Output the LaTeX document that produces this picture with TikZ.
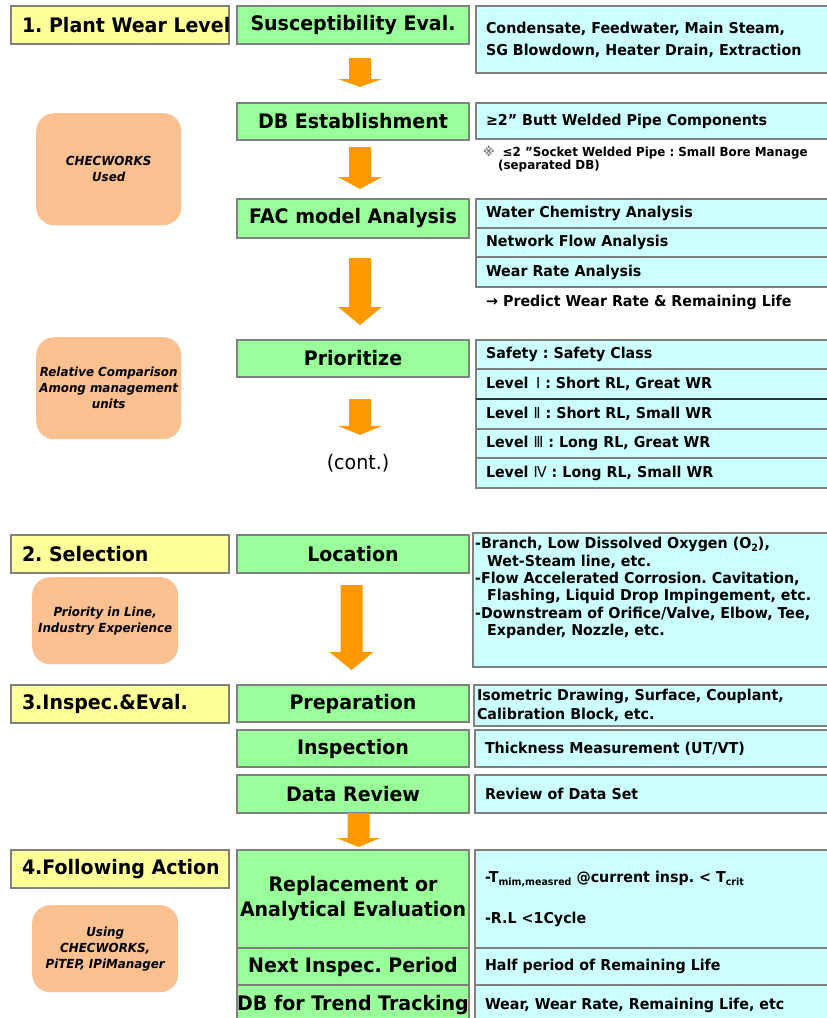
\documentclass[tikz,border=0pt]{standalone}
\usepackage{fontspec}
\setmainfont{DejaVu Sans}[FakeStretch=0.95]
\usetikzlibrary{calc}
\frenchspacing

\definecolor{ylw}{HTML}{FFFF99}
\definecolor{grn}{HTML}{99FF99}
\definecolor{cyn}{HTML}{CCFFFF}
\definecolor{pch}{HTML}{FAC090}
\definecolor{org}{HTML}{FF9900}
\definecolor{edge}{HTML}{808080}

\newcommand\fsz[2]{\fontsize{#1pt}{#2pt}\selectfont}
\newcommand\lowtxt[1]{\raisebox{-3pt}{\fsz{10}{10}#1}}

% block arrow from the bottom of one node to the top of another:
% #1 from, #2 to, #3 x shift, #4 gap at top, #5 gap at tip, #6 head length
\newcommand\flowarrow[6]{%
  \fill[flow] let \p1=(#1.south), \p2=(#2.north) in
    ({\x1+(#3pt)-11pt},{\y1-#4pt}) -- ({\x1+(#3pt)+11pt},{\y1-#4pt})
    -- ({\x1+(#3pt)+11pt},{\y2+#5pt+#6pt}) -- ({\x1+(#3pt)+22pt},{\y2+#5pt+#6pt})
    -- ({\x1+(#3pt)},{\y2+#5pt})
    -- ({\x1+(#3pt)-22pt},{\y2+#5pt+#6pt}) -- ({\x1+(#3pt)-11pt},{\y2+#5pt+#6pt})
    -- cycle;}

\tikzset{
  frame/.style={draw=edge, line width=1.3pt, anchor=north west, inner sep=0pt, outer sep=0pt},
  phase/.style={frame, fill=ylw, inner xsep=11pt, minimum width=218pt, minimum height=38pt,
    font=\bfseries\fsz{20}{24}},
  stage/.style={frame, fill=grn, align=center, minimum width=232pt, font=\bfseries\fsz{20}{25}},
  info/.style={frame, fill=cyn, inner xsep=10pt, align=left, text width=345pt,
    font=\bfseries\fsz{15}{22}},
  tool/.style={anchor=north west, fill=pch, rounded corners=18pt, inner sep=0pt, align=center,
    font=\bfseries\itshape\fsz{12.5}{16}},
  plain/.style={anchor=west, inner sep=0pt, font=\bfseries\fsz{15}{18}},
  flow/.style={fill=org},
}

\begin{document}
\begin{tikzpicture}[x=1pt, y=-1pt]
\useasboundingbox (0,0) rectangle (827,1018);
\fill[white] (0,0) rectangle (827,1018);
\clip (0,0) rectangle (827,1018);

% phase headings
\node[phase] (ph1) at (11,6) {\makebox[196pt][l]{1. Plant Wear Level}};
\node[phase] (ph2) at (11,535) {\makebox[196pt][l]{2. Selection}};
\node[phase] (ph3) at (11,685) {\makebox[196pt][l]{3.Inspec.\&Eval.}};
\node[phase] (ph4) at (11,850) {\makebox[196pt][l]{4.Following Action}};

% tools and criteria
\node[tool, minimum width=145pt, minimum height=112pt] (t1) at (36,113) {CHECWORKS\\Used};
\node[tool, minimum width=145pt, minimum height=102pt] (t2) at (36,337)
  {Relative Comparison\\Among management\\units};
\node[tool, minimum width=146pt, minimum height=87pt] (t3) at (32,577)
  {Priority in Line,\\Industry Experience};
\node[tool, minimum width=146pt, minimum height=87pt] (t4) at (32,905)
  {Using\\CHECWORKS,\\PiTEP, IPiManager};

% process steps
\node[stage, minimum height=38pt] (sus) at (237,6) {Susceptibility Eval.};
\node[stage, minimum height=37pt] (db) at (237,103) {DB Establishment};
\node[stage, minimum height=39pt] (fac) at (237,199) {FAC model Analysis};
\node[stage, minimum height=37pt] (prio) at (237,340) {Prioritize};
\node[inner sep=0pt, font=\mdseries\fsz{20}{24}] (cont) at (358,463) {(cont.)};
\node[stage, minimum height=38pt] (loc) at (237,535) {Location};
\node[stage, minimum height=37pt] (prep) at (237,685) {Preparation};
\node[stage, minimum height=37pt] (insp) at (237,730) {Inspection};
\node[stage, minimum height=38pt] (rev) at (237,775) {Data Review};
\node[stage, minimum height=98pt] (repl) at (237,850) {Replacement or\\Analytical Evaluation};
\node[stage, minimum height=37pt] (next) at (237,948) {Next Inspec. Period};
\node[stage, minimum height=40pt] (trend) at (237,985) {\makebox[220pt][c]{DB for Trend Tracking}};

% details
\node[info, minimum height=67pt] (i1) at (476,6)
  {Condensate, Feedwater, Main Steam,\\SG Blowdown, Heater Drain, Extraction};
\node[info, minimum height=36pt] (i2) at (476,103) {≥2” Butt Welded Pipe Components};
\node[anchor=north west, inner sep=0pt, align=left, font=\bfseries\fsz{12.5}{13}] (note) at (483,146)
  {{\color{gray}※}\hspace{8pt}≤2 ”Socket Welded Pipe : Small Bore Manage\\\hspace*{15pt}(separated DB)};
\node[info, minimum height=29pt] (i3a) at (476,199) {Water Chemistry Analysis};
\node[info, minimum height=29pt] (i3b) at (476,228) {Network Flow Analysis};
\node[info, minimum height=30pt] (i3c) at (476,257) {Wear Rate Analysis};
\node[plain] (pred) at (486,302) {→ Predict Wear Rate \& Remaining Life};

\node[info, minimum height=29pt] (i4a) at (476,340) {Safety : Safety Class};
\node[info, minimum height=30pt] (i4b) at (476,369) {Level \,{\mdseries Ⅰ} : Short RL, Great WR};
\node[info, minimum height=30pt] (i4c) at (476,399) {Level {\mdseries Ⅱ} : Short RL, Small WR};
\node[info, minimum height=29pt] (i4d) at (476,429) {Level {\mdseries Ⅲ} : Long RL, Great WR};
\node[info, minimum height=30pt] (i4e) at (476,458) {Level {\mdseries Ⅳ} : Long RL, Small WR};
\draw[line width=1.6pt, black!80] (i4c.north west) -- (i4c.north east);

\node[info, minimum height=134pt, text width=348pt] (i5) at (473,533) {};
\node[anchor=north west, inner sep=0pt, align=left, font=\bfseries\fsz{15}{17.4}] (i5t) at (475,537)
  {-Branch, Low Dissolved Oxygen (O\lowtxt{2}),\\
   \hspace*{12pt}Wet-Steam line, etc.\\
   -Flow Accelerated Corrosion. Cavitation,\\
   \hspace*{12pt}Flashing, Liquid Drop Impingement, etc.\\
   -Downstream of Orifice/Valve, Elbow, Tee,\\
   \hspace*{12pt}Expander, Nozzle, etc.};

\node[info, minimum height=41pt, inner xsep=3pt, text width=361pt, font=\bfseries\fsz{15}{19}] (i6) at (474,685)
  {Isometric Drawing, Surface, Couplant,\\Calibration Block, etc.};
\node[info, minimum height=37pt] (i7) at (475,730) {Thickness Measurement (UT/VT)};
\node[info, minimum height=38pt] (i8) at (475,775) {Review of Data Set};
\node[info, minimum height=98pt] (i9) at (475,850)
  {-T\lowtxt{mim,measred} @current insp. < T\lowtxt{crit}\\[19pt]-R.L <1Cycle};
\node[info, minimum height=37pt] (i10) at (475,948) {Half period of Remaining Life};
\node[info, minimum height=40pt] (i11) at (475,985) {Wear, Wear Rate, Remaining Life, etc};

% flow arrows
\flowarrow{sus}{db}{7}{14}{16}{8}
\flowarrow{db}{fac}{7}{7}{10}{12}
\flowarrow{fac}{prio}{7}{20}{15}{18}
\flowarrow{prio}{cont}{7}{22}{19}{9}
\flowarrow{loc}{prep}{-1.5}{12}{15}{18}
\flowarrow{rev}{repl}{5.5}{0}{3}{9}
\end{tikzpicture}
\end{document}
